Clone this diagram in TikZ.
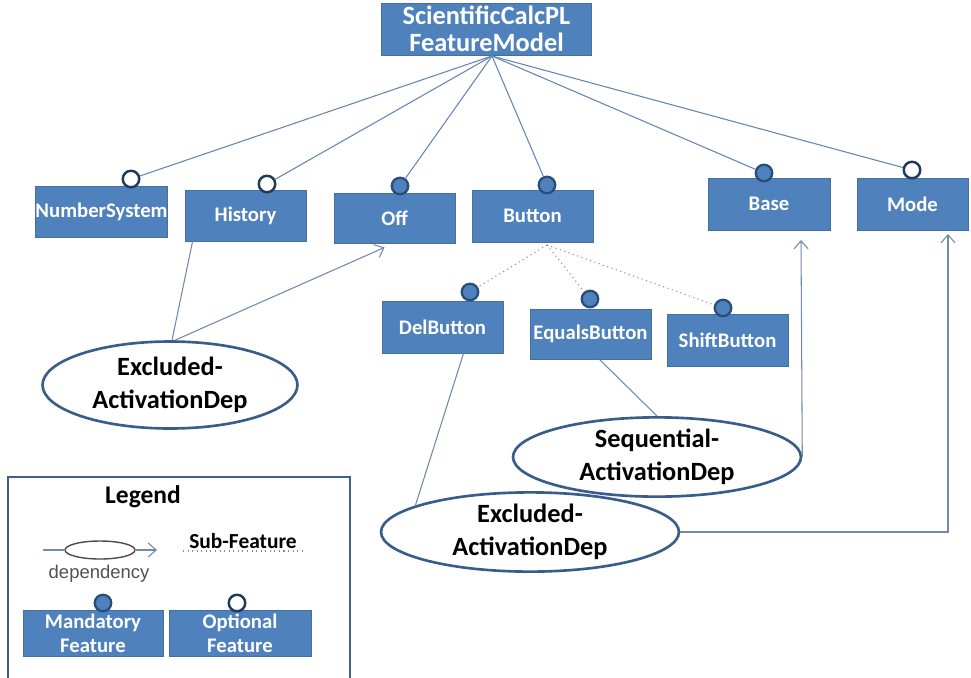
\documentclass[tikz,border=0pt]{standalone}
\usepackage{fontspec}
\setmainfont{Carlito}
\newfontfamily\depfont{Liberation Sans}
\usetikzlibrary{shapes.geometric,arrows.meta,calc}

\definecolor{boxblue}{HTML}{4F81BD}
\definecolor{boxedge}{HTML}{41719C}
\definecolor{dotedge}{HTML}{2A4D7C}
\definecolor{openedge}{HTML}{1F3A5C}
\definecolor{elledge}{HTML}{385D8A}
\definecolor{treeline}{HTML}{6584B3}
\definecolor{depline}{HTML}{7189AC}
\definecolor{subline}{HTML}{8A8A8A}
\definecolor{legendedge}{HTML}{3F5F8C}

\tikzset{
  feature/.style={rectangle, fill=boxblue, draw=boxedge, line width=0.5pt,
    text=white, inner sep=0pt, align=center,
    font=\bfseries\fontsize{11.8}{13.5}\selectfont},
  rootbox/.style={feature, font=\bfseries\fontsize{15}{15.5}\selectfont},
  mandc/.style={circle, fill=boxblue, draw=dotedge, line width=1.3pt,
    minimum size=0.33cm, inner sep=0pt},
  optc/.style={circle, fill=white, draw=openedge, line width=1.4pt,
    minimum size=0.33cm, inner sep=0pt},
  depell/.style={ellipse, fill=white, draw=elledge, line width=1.5pt,
    inner sep=0pt, align=center, text=black,
    font=\bfseries\fontsize{15}{19}\selectfont},
  tree/.style={draw=treeline, line width=0.6pt},
  subf/.style={draw=subline, line width=0.6pt, dotted},
  dep/.style={draw=depline, line width=0.6pt},
  deparrow/.style={dep, -{Straight Barb[length=1.6mm,width=2.8mm]}},
}

\begin{document}
\begin{tikzpicture}[x=0.02cm, y=-0.02cm]
  \useasboundingbox[fill=white] (0,0) rectangle (971,677);

  % root feature
  \node[rootbox, minimum width=4.2cm, minimum height=1.04cm] (root) at (486.5,29)
    {ScientificCalcPL\\FeatureModel};

  % first-level features
  \node[feature, minimum width=2.62cm, minimum height=1.02cm] (ns) at (101.5,211.5) {NumberSystem};
  \node[feature, minimum width=2.42cm, minimum height=1.02cm] (hist) at (245.5,215.5) {History};
  \node[feature, minimum width=2.42cm, minimum height=1.0cm] (off) at (394.5,218) {Off};
  \node[feature, minimum width=2.42cm, minimum height=1.04cm] (button) at (532.5,216) {Button};
  \node[feature, minimum width=2.44cm, minimum height=1.04cm] (base) at (769,204) {Base};
  \node[feature, minimum width=2.22cm, minimum height=1.04cm] (mode) at (912.5,204) {Mode};

  % sub-features of Button
  \node[feature, minimum width=2.42cm, minimum height=1.04cm] (del) at (442.5,327) {DelButton};
  \node[feature, minimum width=2.42cm, minimum height=1.0cm] (eq) at (590.5,334) {EqualsButton};
  \node[feature, minimum width=2.42cm, minimum height=1.04cm] (shift) at (727.5,340) {ShiftButton};

  % mandatory / optional markers
  \node[optc]  (ns-c)     at (131,179) {};
  \node[optc]  (hist-c)   at (267,184) {};
  \node[mandc] (off-c)    at (400,186) {};
  \node[mandc] (button-c) at (547,185) {};
  \node[mandc] (base-c)   at (764,173) {};
  \node[optc]  (mode-c)   at (912,170) {};
  \node[mandc] (del-c)    at (470,292) {};
  \node[mandc] (eq-c)     at (590,299) {};
  \node[mandc] (shift-c)  at (723,308) {};

  % root to first-level features
  \coordinate (fan) at (492,56);
  \foreach \t in {ns-c,hist-c,off-c,button-c,base-c,mode-c}
    \draw[tree] (fan) -- (\t);

  % Button to its sub-features
  \coordinate (bfan) at (547,245);
  \foreach \t in {del-c,eq-c,shift-c}
    \draw[subf] (bfan) -- (\t);

  % dependencies
  \node[depell, minimum width=5.1cm, minimum height=1.74cm] (ex1) at (170,385)
    {Excluded-\\ActivationDep};
  \node[depell, minimum width=5.76cm, minimum height=1.34cm] (seq) at (657,457)
    {Sequential-\\ActivationDep};
  \node[depell, minimum width=5.96cm, minimum height=1.4cm] (ex2) at (530,532)
    {Excluded-\\ActivationDep};

  \coordinate (baseIn) at (801,240);
  \coordinate (modeIn) at (948,234);

  \draw[dep] ($(hist.south west)+(8,0)$) -- ($(ex1.north)+(2,0)$);
  \draw[deparrow] ($(ex1.north)+(5,0)$) -- ($(off.south west)+(51,4)$);
  \draw[dep] ($(del.south)+(21,0)$) -- (ex2.167);
  \draw[dep] ($(eq.south)+(9,0)$) -- (seq.north);
  \draw[deparrow] (seq.east) -- (baseIn);
  \draw[deparrow] (ex2.east) -| (modeIn);

  % legend frame (runs past the lower edge)
  \draw[draw=legendedge, line width=1.2pt] (8,690) -- (8,477) -- (350,477) -- (350,690);
  \node[font=\bfseries\fontsize{14.5}{16}\selectfont] (legtitle) at (143,497) {Legend};

  % legend: dependency symbol
  \node[ellipse, draw=black!70, line width=0.8pt, minimum width=1.4cm,
        minimum height=0.36cm, inner sep=0pt] (legell) at (100,550) {};
  \coordinate (legL) at (43,550);
  \coordinate (legR) at (157,550);
  \draw[draw=depline, line width=0.6pt] (legL) -- (legell.west);
  \draw[deparrow] (legell.east) -- (legR);
  \node[font=\depfont\fontsize{10.5}{12}\selectfont, text=black!68] (legdep) at (99,574) {dependency};

  % legend: sub-feature line
  \node[font=\bfseries\fontsize{12.2}{13}\selectfont] (legsub) at (243,541) {Sub-Feature};
  \coordinate (subL) at (183,551);
  \coordinate (subR) at (305,551);
  \draw[subf] (subL) -- (subR);

  % legend: feature kinds
  \node[feature, minimum width=2.8cm, minimum height=0.92cm] (legmand) at (93,633)
    {Mandatory\\Feature};
  \node[feature, minimum width=2.84cm, minimum height=0.92cm] (legopt) at (240,633)
    {Optional\\Feature};
  \node[mandc] (legmand-c) at (103,603) {};
  \node[optc]  (legopt-c)  at (237,603) {};
\end{tikzpicture}
\end{document}
